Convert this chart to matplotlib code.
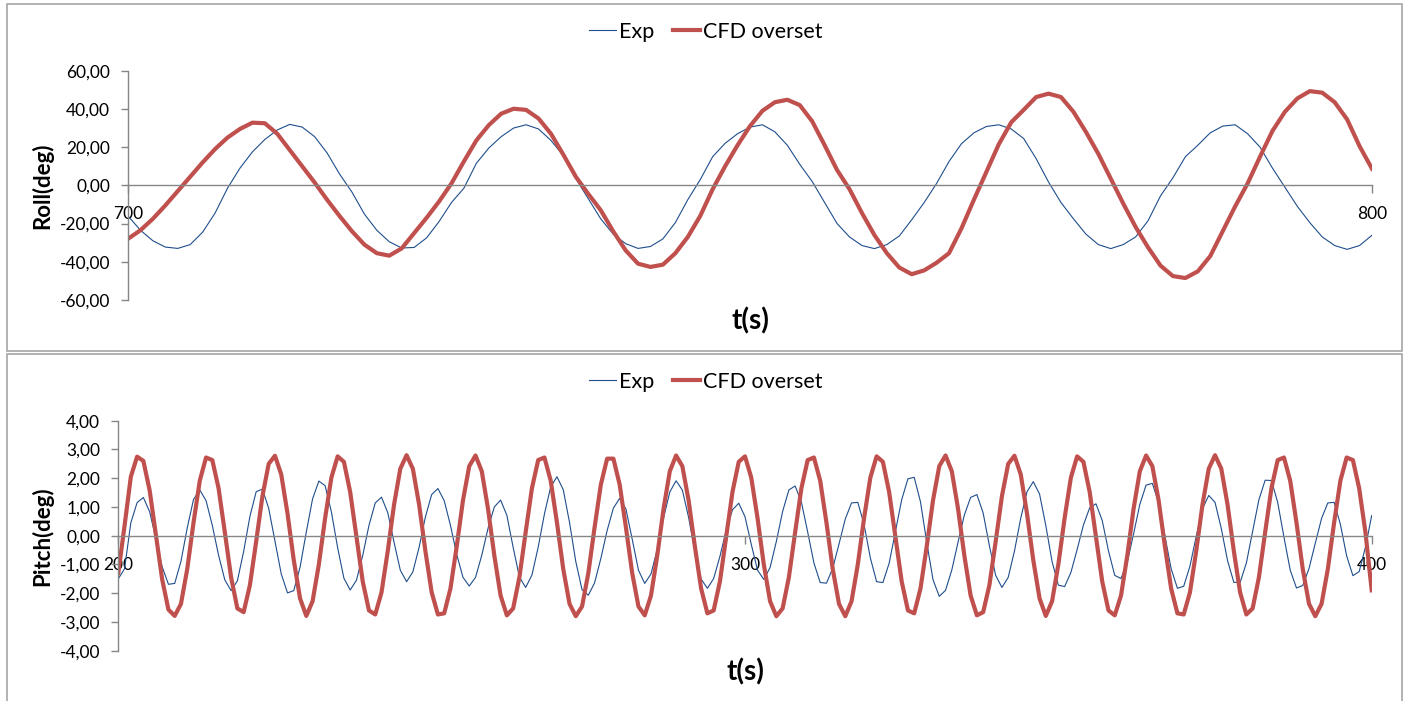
import matplotlib.pyplot as plt
from matplotlib.patches import Rectangle
from matplotlib.ticker import FuncFormatter, MultipleLocator

# Roll, t = 700..800 s, 1 s steps
roll_t = list(range(700, 801))
roll_exp = [
    -16.0, -23.5, -29.0, -32.3, -33.0, -31.0, -24.5, -14.5, -1.5, 9.0,
    17.5, 24.0, 29.0, 31.9, 30.5, 25.5, 17.0, 6.0, -3.5, -15.0,
    -23.5, -29.5, -32.8, -32.5, -27.5, -19.0, -9.0, -1.5, 11.5, 19.5,
    25.5, 30.0, 31.7, 29.5, 23.5, 15.5, 3.5, -7.0, -17.5, -25.5,
    -30.5, -33.0, -32.0, -28.0, -19.5, -7.5, 3.0, 15.0, 22.0, 27.0,
    30.5, 31.7, 28.0, 21.0, 11.0, 2.0, -9.0, -20.0, -27.0, -31.5,
    -33.1, -31.0, -26.5, -18.0, -9.0, 1.0, 12.5, 21.8, 27.5, 30.8,
    31.7, 29.5, 24.5, 14.0, 1.7, -9.0, -17.5, -25.5, -31.0, -33.1,
    -31.0, -27.0, -18.5, -5.5, 4.0, 15.0, 21.0, 27.5, 31.0, 31.7,
    27.0, 20.0, 9.0, -1.0, -11.0, -19.5, -27.0, -31.5, -33.5, -31.5,
    -26.1,
]
roll_cfd = [
    -28.0, -23.5, -17.5, -10.5, -3.0, 4.5, 12.0, 19.0, 25.0, 29.5,
    32.8, 32.5, 27.0, 18.5, 10.0, 1.5, -7.5, -16.0, -24.0, -31.0,
    -35.5, -36.8, -33.0, -25.0, -17.0, -8.5, 1.0, 12.5, 23.5, 31.5,
    37.5, 40.1, 39.5, 35.0, 27.0, 16.0, 4.5, -4.5, -13.0, -24.0,
    -34.0, -41.0, -42.7, -41.5, -35.5, -27.0, -16.0, -2.0, 10.0, 21.0,
    31.0, 39.0, 43.5, 44.8, 42.0, 33.5, 21.0, 8.0, -2.0, -14.5,
    -26.0, -35.5, -43.0, -46.5, -44.5, -40.5, -35.5, -22.5, -7.5, 7.0,
    21.5, 33.0, 39.5, 46.2, 48.0, 46.2, 38.5, 28.0, 16.5, 3.5,
    -9.5, -21.8, -32.5, -42.0, -47.5, -48.5, -45.0, -37.0, -24.0, -11.0,
    1.0, 15.0, 28.5, 38.5, 45.5, 49.3, 48.5, 43.5, 34.5, 20.5,
    8.7,
]

# Pitch, t = 200..400 s, 1 s steps
pitch_t = list(range(200, 401))
pitch_exp = [
    -1.50, -1.15, 0.45, 1.15, 1.33, 0.83, -0.10, -1.08, -1.69, -1.66,
    -0.89, 0.27, 1.26, 1.59, 1.22, 0.36, -0.68, -1.54, -1.91, -1.57,
    -0.55, 0.67, 1.53, 1.62, 0.95, -0.19, -1.33, -1.99, -1.91, -1.10,
    0.13, 1.28, 1.90, 1.74, 0.83, -0.42, -1.48, -1.89, -1.55, -0.69,
    0.36, 1.14, 1.34, 0.80, -0.23, -1.20, -1.60, -1.26, -0.40, 0.65,
    1.43, 1.64, 1.22, 0.36, -0.65, -1.45, -1.75, -1.45, -0.68, 0.26,
    1.00, 1.24, 0.71, -0.40, -1.44, -1.80, -1.37, -0.40, 0.76, 1.70,
    2.05, 1.60, 0.46, -0.90, -1.88, -2.07, -1.64, -0.79, 0.18, 0.96,
    1.30, 0.93, -0.12, -1.20, -1.66, -1.33, -0.47, 0.61, 1.52, 1.91,
    1.59, 0.64, -0.56, -1.51, -1.83, -1.49, -0.72, 0.19, 0.90, 1.13,
    0.66, -0.30, -1.20, -1.52, -1.11, -0.20, 0.84, 1.59, 1.73, 1.17,
    0.13, -0.95, -1.63, -1.65, -1.13, -0.29, 0.58, 1.14, 1.16, 0.39,
    -0.77, -1.60, -1.63, -0.96, 0.14, 1.25, 1.98, 2.03, 1.18, -0.23,
    -1.53, -2.11, -1.90, -1.19, -0.22, 0.72, 1.33, 1.43, 0.79, -0.35,
    -1.38, -1.80, -1.45, -0.53, 0.61, 1.53, 1.88, 1.45, 0.35, -0.90,
    -1.72, -1.77, -1.28, -0.48, 0.37, 0.97, 1.11, 0.53, -0.53, -1.38,
    -1.49, -0.92, 0.06, 1.09, 1.76, 1.82, 1.14, 0.00, -1.15, -1.83,
    -1.76, -1.06, -0.02, 0.94, 1.40, 1.16, 0.25, -0.87, -1.62, -1.63,
    -0.95, 0.15, 1.25, 1.93, 1.92, 1.16, -0.05, -1.20, -1.82, -1.73,
    -1.14, -0.26, 0.60, 1.14, 1.16, 0.40, -0.70, -1.39, -1.25, -0.40,
    0.70,
]
pitch_cfd = [
    -1.30, 0.35, 2.05, 2.75, 2.60, 1.58, 0.04, -1.52, -2.57, -2.79,
    -2.37, -1.16, 0.45, 1.91, 2.72, 2.63, 1.65, 0.12, -1.45, -2.53,
    -2.66, -1.72, -0.20, 1.38, 2.50, 2.78, 2.13, 0.77, -0.85, -2.18,
    -2.79, -2.28, -1.00, 0.61, 2.02, 2.76, 2.57, 1.52, -0.04, -1.59,
    -2.60, -2.74, -1.97, -0.53, 1.08, 2.33, 2.80, 2.33, 1.08, -0.53,
    -1.97, -2.74, -2.70, -1.84, -0.37, 1.23, 2.42, 2.79, 2.24, 0.93,
    -0.69, -2.08, -2.77, -2.53, -1.45, 0.12, 1.65, 2.63, 2.72, 1.91,
    0.45, -1.16, -2.37, -2.80, -2.46, -1.30, 0.29, 1.78, 2.68, 2.68,
    1.78, 0.29, -1.30, -2.46, -2.77, -2.08, -0.69, 0.93, 2.24, 2.79,
    2.42, 1.23, -0.37, -1.84, -2.70, -2.60, -1.59, -0.04, 1.52, 2.57,
    2.76, 2.02, 0.61, -1.00, -2.28, -2.80, -2.53, -1.45, 0.12, 1.65,
    2.63, 2.72, 1.91, 0.45, -1.16, -2.37, -2.80, -2.28, -1.00, 0.61,
    2.02, 2.76, 2.57, 1.52, -0.04, -1.59, -2.60, -2.70, -1.84, -0.37,
    1.23, 2.42, 2.79, 2.24, 0.93, -0.69, -2.08, -2.77, -2.66, -1.72,
    -0.20, 1.38, 2.50, 2.78, 2.13, 0.77, -0.85, -2.18, -2.79, -2.28,
    -1.00, 0.61, 2.02, 2.76, 2.57, 1.52, -0.04, -1.59, -2.60, -2.77,
    -2.08, -0.69, 0.93, 2.24, 2.79, 2.42, 1.23, -0.37, -1.84, -2.70,
    -2.74, -1.97, -0.53, 1.08, 2.33, 2.80, 2.33, 1.08, -0.53, -1.97,
    -2.74, -2.53, -1.45, 0.12, 1.65, 2.63, 2.72, 1.91, 0.45, -1.16,
    -2.37, -2.80, -2.37, -1.16, 0.45, 1.91, 2.72, 2.63, 1.65, 0.12,
    -1.90,
]

BLUE = '#1F4E8C'
RED = '#C0504D'
GRID = '#868686'

plt.rcParams['font.family'] = ['Lato', 'DejaVu Sans']

fig = plt.figure(figsize=(14.05, 7.01), dpi=100)
W, H = 1405, 701

# chart area borders
fig.patches.append(Rectangle((7 / W, 1 - 351 / H), 1395 / W, 347 / H,
                             transform=fig.transFigure, fill=False,
                             edgecolor='#A6A6A6', lw=1.2))
fig.patches.append(Rectangle((7 / W, 1 - 705 / H), 1395 / W, 351 / H,
                             transform=fig.transFigure, fill=False,
                             edgecolor='#A6A6A6', lw=1.2))

comma = FuncFormatter(lambda v, p: f"{v:.2f}".replace('.', ','))


def style(ax, t, exp, cfd, xlim, ylim, ystep, ylabel, ylab_x, leg_y, xl_y):
    ax.plot(t, exp, color=BLUE, lw=0.8, label='Exp')
    ax.plot(t, cfd, color=RED, lw=3.0, label='CFD overset')
    ax.set_xlim(*xlim)
    ax.set_ylim(*ylim)
    ax.yaxis.set_major_locator(MultipleLocator(ystep))
    ax.yaxis.set_major_formatter(comma)
    ax.xaxis.set_major_locator(MultipleLocator(100))
    ax.spines['top'].set_visible(False)
    ax.spines['right'].set_visible(False)
    ax.spines['bottom'].set_position(('data', 0))
    for s in ('left', 'bottom'):
        ax.spines[s].set_color(GRID)
        ax.spines[s].set_linewidth(1.0)
    ax.tick_params(axis='y', direction='out', length=5, width=1, color=GRID,
                   labelsize=12.5, pad=8)
    ax.tick_params(axis='x', direction='out', length=6, width=1, color=GRID,
                   labelsize=12.5, pad=9)
    ax.set_ylabel(ylabel, fontsize=16, fontweight='bold')
    ax.yaxis.set_label_coords(ylab_x, 0.5)
    fig.legend(*ax.get_legend_handles_labels(), loc='center',
               bbox_to_anchor=(706 / W, leg_y), ncol=2, frameon=False,
               fontsize=15.5, handlelength=1.25, handletextpad=0.15,
               columnspacing=0.85)
    ax.text(0.5, xl_y, 't(s)', transform=ax.transAxes, ha='center',
            va='center', fontsize=20, fontweight='bold')


ax1 = fig.add_axes([128 / W, 1 - 300 / H, 1244 / W, 229.3 / H])
style(ax1, roll_t, roll_exp, roll_cfd, (700, 800), (-60, 60), 20,
      'Roll(deg)', -0.060, 1 - 32 / H, -21 / 229.3)

ax2 = fig.add_axes([118.3 / W, 1 - 650.7 / H, 1253.4 / W, 230 / H])
style(ax2, pitch_t, pitch_exp, pitch_cfd, (200, 400), (-4, 4), 1,
      'Pitch(deg)', -0.052, 1 - 382 / H, -21 / 230)

fig.savefig('out.png', dpi=100)
